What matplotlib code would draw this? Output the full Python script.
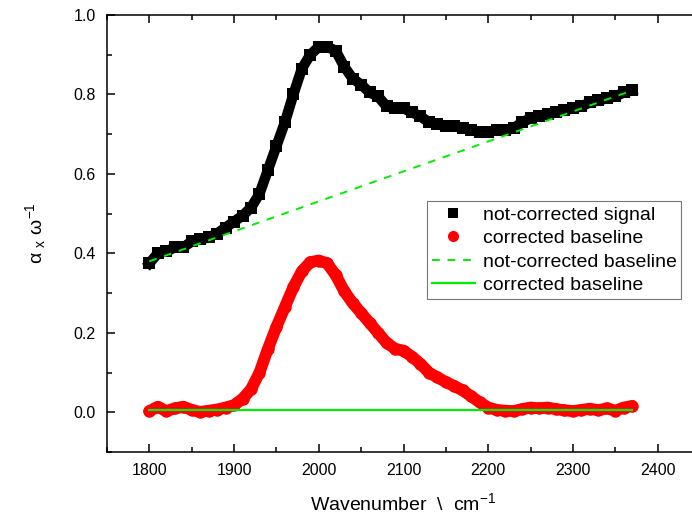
import numpy as np
import matplotlib.pyplot as plt
from matplotlib.ticker import MultipleLocator
from matplotlib.lines import Line2D

plt.rcParams["font.family"] = ["Liberation Sans", "DejaVu Sans"]
plt.rcParams["mathtext.fontset"] = "custom"
plt.rcParams["mathtext.rm"] = "Liberation Sans"
plt.rcParams["mathtext.it"] = "Liberation Sans:italic"

# wavenumbers, cm^-1
wavenumber = np.arange(1800, 2371, 10)

# raw signal (black squares)
signal = [0.375, 0.400, 0.405, 0.415, 0.415, 0.430, 0.435, 0.440, 0.450, 0.465,
          0.480, 0.495, 0.515, 0.550, 0.610, 0.670, 0.730, 0.800, 0.865, 0.900,
          0.920, 0.920, 0.910, 0.870, 0.840, 0.825, 0.805, 0.795, 0.770, 0.765,
          0.765, 0.755, 0.745, 0.730, 0.725, 0.720, 0.720, 0.715, 0.710, 0.705,
          0.705, 0.710, 0.710, 0.715, 0.730, 0.740, 0.745, 0.750, 0.755, 0.760,
          0.765, 0.770, 0.780, 0.785, 0.790, 0.795, 0.805, 0.810]

# baseline-corrected signal (red circles)
corrected = [0.003, 0.014, 0.003, 0.010, 0.014, 0.006, 0.001, 0.004, 0.007, 0.012,
             0.018, 0.034, 0.058, 0.100, 0.160, 0.215, 0.265, 0.315, 0.355, 0.378,
             0.382, 0.375, 0.345, 0.305, 0.275, 0.250, 0.225, 0.200, 0.175, 0.160,
             0.155, 0.140, 0.122, 0.100, 0.088, 0.076, 0.066, 0.055, 0.040, 0.025,
             0.012, 0.006, 0.004, 0.003, 0.008, 0.012, 0.010, 0.012, 0.008, 0.005,
             0.003, 0.006, 0.009, 0.005, 0.010, 0.004, 0.012, 0.016]

# baseline end points
base_x = [1800, 2370]
base_raw = [0.38, 0.81]
base_corr = [0.005, 0.005]

fig = plt.figure(figsize=(6.92, 5.21), dpi=100)
ax = fig.add_axes([0.1546, 0.1324, 0.857, 0.8388])

# dense markers joined by a thick band of the same colour
ax.plot(wavenumber, signal, "s-", color="black", ms=8, mew=0, lw=7.5,
        solid_joinstyle="miter", zorder=2)
ax.plot(wavenumber, corrected, "o-", color="#ff0000", ms=9, mew=0, lw=8.5,
        solid_joinstyle="round", solid_capstyle="round", zorder=2)
ax.plot(base_x, base_raw, "--", color="#00ee00", lw=1.4, dashes=(4, 4), zorder=3)
ax.plot(base_x, base_corr, "-", color="#00ee00", lw=1.6, zorder=3)

ax.set_xlim(1750, 2450)
ax.set_ylim(-0.1, 1.0)
ax.xaxis.set_major_locator(MultipleLocator(100))
ax.xaxis.set_minor_locator(MultipleLocator(50))
ax.yaxis.set_major_locator(MultipleLocator(0.2))
ax.yaxis.set_minor_locator(MultipleLocator(0.1))
ax.yaxis.set_major_formatter(plt.FormatStrFormatter("%.1f"))

ax.tick_params(which="both", direction="in", top=True, right=True, width=1.1,
               labelsize=11.5, pad=8)
ax.tick_params(which="major", length=6)
ax.tick_params(which="minor", length=3.5)
for s in ax.spines.values():
    s.set_linewidth(1.1)

ax.set_xlabel(r"Wavenumber  \  cm$^{\mathregular{-1}}$", fontsize=14, labelpad=10)
ax.set_ylabel(r"α $_{\mathregular{x}}$ ω$^{\mathregular{-1}}$", fontsize=14, labelpad=18)

handles = [
    Line2D([], [], ls="none", marker="s", color="black", ms=7, mew=0),
    Line2D([], [], ls="none", marker="o", color="#ff0000", ms=8, mew=0),
    Line2D([], [], ls="--", color="#00ee00", lw=1.4, dashes=(4, 4)),
    Line2D([], [], ls="-", color="#00ee00", lw=1.6),
]
labels = ["not-corrected signal", "corrected baseline",
          "not-corrected baseline", "corrected baseline"]
leg = ax.legend(handles, labels, loc="upper left", bbox_to_anchor=(0.54, 0.574),
                fontsize=14, frameon=True, fancybox=False, handlelength=2.2,
                labelspacing=0.3, borderpad=0.25, handletextpad=0.4, borderaxespad=0)
leg.get_frame().set_edgecolor("#555555")
leg.get_frame().set_linewidth(0.8)

fig.savefig("out.png", dpi=100)
